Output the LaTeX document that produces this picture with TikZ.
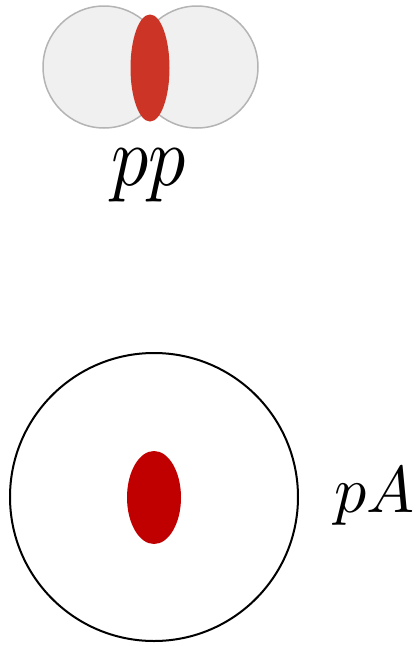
\documentclass[tikz,border=0pt]{standalone}
\usepackage{tikz}
\definecolor{protonfill}{HTML}{F0F0F0}
\definecolor{protonline}{HTML}{B4B4B4}
\definecolor{topred}{HTML}{CC3526}
\definecolor{botred}{HTML}{C00000}
\tikzset{
  proton/.style={fill=protonfill, draw=protonline, line width=1.5pt},
  lbl/.style={inner sep=0pt}
}
\begin{document}
\begin{tikzpicture}[x=1pt,y=-1pt]
\useasboundingbox (0,0) rectangle (419,646);
% pp collision
\path[proton] (104,67) circle (61);
\path[proton] (197,67) circle (61);
\fill[topred] (150,68) ellipse (19.5 and 53.5);
\node[lbl, anchor=base, xscale=7.4, yscale=8.5] (pp) at (148.5,185) {$pp$};
% pA collision
\draw[line width=2pt] (154,497) circle (144);
\fill[botred] (154,497.5) ellipse (27 and 46.5);
\node[lbl, anchor=base west, xscale=6.4, yscale=6.6] (pA) at (333,512) {$pA$};
\end{tikzpicture}
\end{document}
